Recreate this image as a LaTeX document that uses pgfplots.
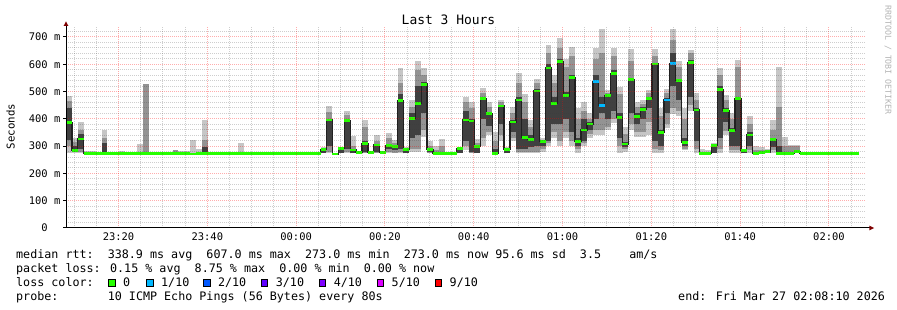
\documentclass[border=0pt]{standalone}
\usepackage{pgfplots}
\pgfplotsset{compat=1.18}
\usepackage{pgfplotstable}
\usepackage{fontspec}
\newfontfamily\rrd{DejaVu Sans Mono}
\definecolor{lc0}{HTML}{26FF00}
\definecolor{lc1}{HTML}{00B8FF}
\definecolor{lc2}{HTML}{0059FF}
\definecolor{lc3}{HTML}{5E00FF}
\definecolor{lc4}{HTML}{7E00FF}
\definecolor{lc5}{HTML}{DD00FF}
\definecolor{lc9}{HTML}{FF0000}
\definecolor{smokeA}{HTML}{C6C6C6}
\definecolor{smokeB}{HTML}{939393}
\definecolor{smokeC}{HTML}{404040}
\definecolor{medblack}{HTML}{202020}
\definecolor{mgrid}{RGB}{255,0,0}
\definecolor{mingrid}{RGB}{60,60,60}
\definecolor{arrowred}{HTML}{7F0000}
\definecolor{wmgray}{HTML}{B4B4B4}

\pgfplotstableread{
k med lo hi mlo mhi ilo ihi
0 386 275 484 300 467 322 440
1 283 275 330 278 315 280 300
2 326 275 390 280 360 290 345
3 273 273 283 273 273 273 273
4 273 273 283 273 273 273 273
5 273 273 278 273 273 273 273
6 273 273 360 273 330 273 310
7 273 273 273 273 273 273 273
8 273 273 273 273 273 273 273
9 273 273 281 273 273 273 273
10 273 273 273 273 273 273 273
11 273 273 273 273 273 273 273
12 273 273 308 273 273 273 273
13 273 273 528 273 528 273 273
14 273 273 273 273 273 273 273
15 273 273 273 273 273 273 273
16 273 273 273 273 273 273 273
17 273 273 280 273 273 273 273
18 273 273 285 273 285 273 273
19 273 273 282 273 273 273 273
20 273 273 282 273 273 273 273
21 271 271 322 271 271 271 271
22 273 273 288 273 273 273 273
23 273 273 396 273 322 273 298
24 273 273 273 273 273 273 273
25 273 273 273 273 273 273 273
26 273 273 273 273 273 273 273
27 273 273 273 273 273 273 273
28 273 273 273 273 273 273 273
29 273 273 310 273 273 273 273
30 273 273 273 273 273 273 273
31 273 273 273 273 273 273 273
32 273 273 278 273 273 273 273
33 273 273 273 273 273 273 273
34 273 273 273 273 273 273 273
35 273 273 273 273 273 273 273
36 273 273 273 273 273 273 273
37 273 273 273 273 273 273 273
38 273 273 273 273 273 273 273
39 273 273 273 273 273 273 273
40 273 273 273 273 273 273 273
41 273 273 273 273 273 273 273
42 273 273 273 273 273 273 273
43 288 273 295 273 290 273 288
44 396 273 447 280 425 300 400
45 271 271 271 271 271 271 271
46 291 273 296 273 293 273 291
47 395 273 430 280 415 290 400
48 286 273 337 273 300 273 290
49 276 273 279 273 276 273 276
50 309 273 396 275 371 278 318
51 276 273 276 273 276 273 276
52 304 273 341 275 320 278 307
53 278 273 282 273 278 273 278
54 302 273 348 280 330 290 306
55 300 273 322 275 310 285 303
56 466 273 585 280 530 290 490
57 288 273 298 273 292 273 290
58 402 280 469 290 445 330 420
59 457 278 610 290 580 340 520
60 527 334 587 360 560 420 535
61 287 273 318 275 300 278 290
62 273 273 300 273 285 273 273
63 273 273 325 273 300 273 278
64 273 273 273 273 273 273 273
65 273 273 273 273 273 273 273
66 290 273 298 273 292 273 290
67 396 285 481 300 460 320 430
68 392 273 462 275 440 280 400
69 300 273 325 273 310 275 302
70 475 300 512 330 495 400 480
71 419 340 462 350 445 375 425
72 273 273 350 273 320 273 290
73 447 320 470 340 460 380 450
74 288 273 295 273 290 273 288
75 388 320 445 330 420 350 395
76 469 273 567 280 530 290 480
77 331 273 490 280 460 290 400
78 323 273 396 280 370 295 340
79 502 273 545 280 530 300 510
80 316 278 330 290 322 300 318
81 586 300 670 310 640 320 600
82 457 330 560 350 530 380 480
83 609 300 695 320 660 380 620
84 484 330 620 350 590 400 500
85 552 300 664 320 630 350 560
86 316 273 439 290 400 300 330
87 359 300 460 310 430 320 400
88 381 330 420 345 400 360 390
89 537 340 658 360 620 400 560
90 450 340 730 360 640 420 480
91 484 360 506 370 495 400 485
92 567 385 658 400 630 430 580
93 405 275 518 300 490 330 420
94 308 278 371 290 345 295 315
95 545 360 655 380 610 420 550
96 408 335 463 350 445 380 420
97 435 335 469 350 455 400 445
98 474 340 506 390 495 440 480
99 601 273 655 290 630 320 605
100 351 273 440 285 410 300 360
101 469 365 510 380 495 420 475
102 603 416 730 440 690 520 640
103 540 410 610 430 590 470 545
104 313 285 440 290 400 300 330
105 606 430 652 450 640 480 615
106 432 273 494 290 470 320 440
107 273 273 290 273 280 273 273
108 273 273 285 273 273 273 273
109 301 273 310 273 305 273 301
110 506 273 585 290 560 330 520
111 430 340 487 355 470 390 440
112 357 273 420 285 400 300 365
113 473 273 615 285 590 300 480
114 283 273 290 273 285 273 283
115 341 273 409 285 380 300 350
116 273 273 300 273 285 273 273
117 276 273 298 273 285 273 276
118 281 273 290 273 285 273 281
119 325 273 396 285 360 295 330
120 273 273 591 273 445 273 300
121 273 273 332 273 300 273 280
122 273 273 305 273 300 273 280
123 280 273 305 273 300 273 282
124 273 273 273 273 273 273 273
125 273 273 273 273 273 273 273
126 273 273 273 273 273 273 273
127 273 273 273 273 273 273 273
128 273 273 273 273 273 273 273
129 273 273 273 273 273 273 273
130 273 273 273 273 273 273 273
131 273 273 273 273 273 273 273
132 273 273 273 273 273 273 273
133 273 273 273 273 273 273 273
}\smoke

\begin{document}
\begin{tikzpicture}
\useasboundingbox (0bp,0bp) rectangle (897bp,310bp);
\begin{axis}[
  at={(66bp,82bp)}, anchor=south west,
  scale only axis, width=799.2bp, height=202bp,
  xmin=0, xmax=135, ymin=0, ymax=740,
  axis x line*=bottom, axis y line*=left,
  axis line style={line width=1bp, color=black},
  axis on top,
  xtick={8.875,23.875,38.875,53.875,68.875,83.875,98.875,113.875,128.875},
  xticklabels={23:20,23:40,00:00,00:20,00:40,01:00,01:20,01:40,02:00},
  minor xtick={1.375,5.125,12.625,16.375,20.125,27.625,31.375,35.125,42.625,46.375,50.125,57.625,61.375,65.125,72.625,76.375,80.125,87.625,91.375,95.125,102.625,106.375,110.125,117.625,121.375,125.125,132.625},
  ytick={0,100,200,300,400,500,600,700},
  yticklabels={0\phantom{\ m},100 m,200 m,300 m,400 m,500 m,600 m,700 m},
  minor ytick={20,40,60,80,120,140,160,180,220,240,260,280,320,340,360,380,420,440,460,480,520,540,560,580,620,640,660,680,720},
  grid=both,
  major grid style={dash pattern=on 1bp off 1bp, color=mgrid, opacity=0.32, line width=1bp},
  minor grid style={dash pattern=on 1bp off 1bp, color=mingrid, opacity=0.25, line width=1bp},
  tick align=outside, major tick length=3bp, minor tick length=0pt,
  xtick style={draw=none},
  ytick style={line width=1bp, color=black},
  ticklabel style={font=\rrd\fontsize{10.5}{12}\selectfont, inner sep=0pt},
  xticklabel style={yshift=-2bp},
  yticklabel style={xshift=-2.5bp},
  smoke/.style={draw=none, mark=none, error bars/.cd, y dir=plus, y explicit, error mark=none,
    error bar style={line width=5.95bp, draw=#1}},
  medmark/.style={draw=none, mark=none, error bars/.cd, x dir=plus, x fixed=1, error mark=none,
    error bar style={line width=2.8bp, draw=#1}},
]
\addplot[smoke=smokeA]
  table[x expr=\thisrow{k}+0.5, y=lo, y error expr=\thisrow{hi}-\thisrow{lo}] {\smoke};
\addplot[smoke=smokeB]
  table[x expr=\thisrow{k}+0.5, y=mlo, y error expr=\thisrow{mhi}-\thisrow{mlo}] {\smoke};
\addplot[smoke=smokeC]
  table[x expr=\thisrow{k}+0.5, y=ilo, y error expr=\thisrow{ihi}-\thisrow{ilo}] {\smoke};
\addplot[const plot, draw=medblack, line width=1.3bp, mark=none] table[x=k, y=med] {\smoke};
\addplot[medmark=lc0] table[x=k, y=med] {\smoke};
\addplot[medmark=lc1] coordinates {(89,537) (90,450) (101,469) (102,603)};
\end{axis}
% axis extensions and arrows
\draw[line width=1bp, black] (63bp,82bp) -- (869.5bp,82bp);
\fill[arrowred] (869.3bp,84.4bp) -- (874bp,82bp) -- (869.3bp,79.6bp) -- cycle;
\fill[arrowred] (63.6bp,284bp) -- (66bp,288.5bp) -- (68.4bp,284bp) -- cycle;
% title, labels, watermark
\node[font=\rrd\fontsize{13}{15}\selectfont, anchor=base] at (448.5bp,285.5bp) {Last 3 Hours};
\node[font=\rrd\fontsize{10.8}{12}\selectfont, rotate=90, anchor=center] at (10.5bp,183.5bp) {Seconds};
\node[font=\rrd\fontsize{8.3}{10}\selectfont, text=wmgray, rotate=-90, anchor=center] at (888bp,250bp) {RRDTOOL / TOBI OETIKER};
% legend
\begin{scope}[every node/.style={font=\rrd\fontsize{11.75}{14}\selectfont, anchor=base west, inner sep=0pt}]
\node at (16bp,51.7bp) {median rtt:~~338.9 ms avg~~607.0 ms max~~273.0 ms min~~273.0 ms now 95.6 ms sd~~3.5~~~~am/s};
\node at (16bp,37.5bp) {packet loss: 0.15 \% avg~~8.75 \% max~~0.00 \% min~~0.00 \% now};
\node at (16bp,23.3bp) {loss color:};
\node at (16bp,9.1bp) {probe:~~~~~~~10 ICMP Echo Pings (56 Bytes) every 80s};
\node at (678bp,9.1bp) {end: Fri Mar 27 02:08:10 2026};
\node at (122.8bp,23.3bp) {0};
\node at (161bp,23.3bp) {1/10};
\node at (217.8bp,23.3bp) {2/10};
\node at (275.7bp,23.3bp) {3/10};
\node at (333.6bp,23.3bp) {4/10};
\node at (391.5bp,23.3bp) {5/10};
\node at (449.5bp,23.3bp) {9/10};
\end{scope}
\foreach \sx/\sc in {108.3/lc0,146.5/lc1,203.3/lc2,261.2/lc3,319.1/lc4,377/lc5,435/lc9}{
  \filldraw[fill=\sc, draw=black, line width=0.8bp] (\sx bp,23.7bp) rectangle ++(6.6bp,6.6bp);
}
\end{tikzpicture}
\end{document}
